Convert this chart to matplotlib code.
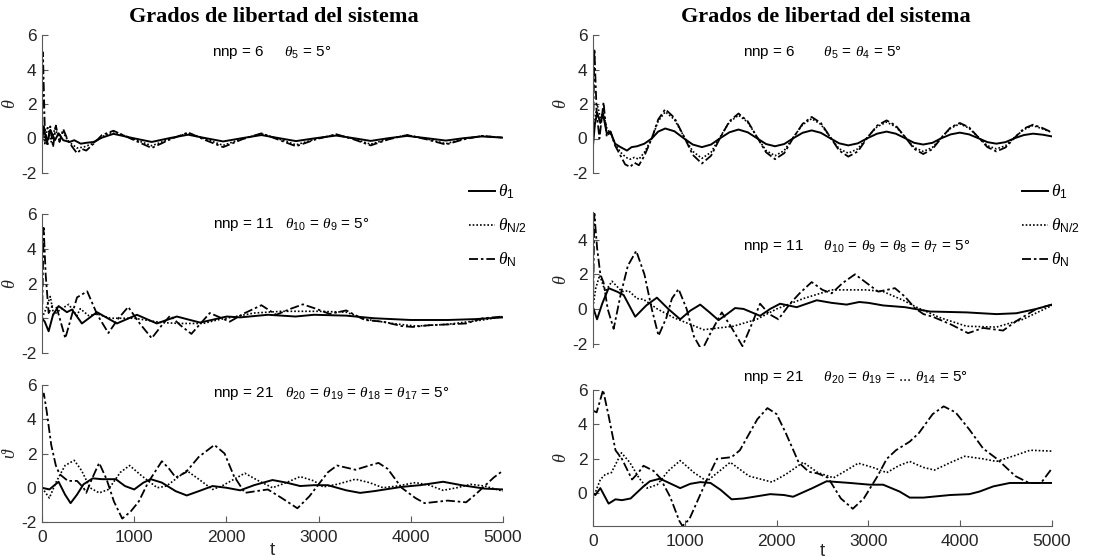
import matplotlib
matplotlib.use('Agg')
import matplotlib.pyplot as plt
from matplotlib.lines import Line2D

plt.rcParams['font.family'] = ['Liberation Sans', 'DejaVu Sans']
plt.rcParams['mathtext.fontset'] = 'custom'
plt.rcParams['mathtext.it'] = 'Liberation Serif:italic'
plt.rcParams['mathtext.rm'] = 'Liberation Sans'
plt.rcParams['mathtext.bf'] = 'Liberation Sans:bold'

# ---------------- data ----------------
title_text = 'Grados de libertad del sistema'
legend_labels = [r'$\theta_{1}$', r'$\theta_{\mathrm{N/2}}$', r'$\theta_{\mathrm{N}}$']
xticks = [0, 1000, 2000, 3000, 4000, 5000]

# Top-left: nnp = 6, theta5 = 5
tl_t1 = [0, 20, 50, 90, 140, 180, 230, 300, 350, 420, 480, 560, 650,
         775, 980, 1190, 1390, 1585, 1775, 1965, 2170, 2380, 2570, 2755, 2970, 3190, 3380, 3565, 3760, 3960, 4170, 4380, 4575, 4770, 5000]
tl_v1 = [-0.2, 0.7, -0.3, 0.5, -0.1, 0.3, -0.1, -0.2, -0.1, -0.3, -0.25, -0.2, 0.05,
         0.27, 0.03, -0.2, 0.03, 0.22, 0.02, -0.17, 0.02, 0.2, 0.02, -0.15, 0.02, 0.17, 0.02, -0.14, 0.02, 0.15, 0.02, -0.12, 0.02, 0.12, 0.05]
tl_t2 = [0, 15, 30, 60, 100, 140, 180, 230, 290, 380, 450, 550, 650,
         775, 980, 1190, 1390, 1585, 1775, 1965, 2170, 2380, 2570, 2755, 2970, 3190, 3380, 3565, 3760, 3960, 4170, 4380, 4575, 4770, 5000]
tl_v2 = [0.0, 0.7, -0.3, 0.7, -0.2, 0.6, 0.1, 0.35, -0.2, -0.55, -0.5, -0.3, 0.1,
         0.4, 0.0, -0.42, -0.02, 0.32, -0.03, -0.4, -0.02, 0.27, -0.03, -0.37, -0.02, 0.22, -0.02, -0.33, -0.02, 0.2, -0.02, -0.3, -0.02, 0.15, 0.05]
tl_t3 = [0, 10, 30, 60, 90, 120, 150, 190, 230, 280, 330, 380, 430, 480, 560, 650,
         775, 980, 1190, 1390, 1585, 1775, 1965, 2170, 2380, 2570, 2755, 2970, 3190, 3380, 3565, 3760, 3960, 4170, 4380, 4575, 4770, 5000]
tl_v3 = [-0.3, 5.0, 0.6, -0.4, 0.7, -0.5, 0.75, -0.2, 0.55, -0.1, -0.5, -0.85, -0.6, -0.7, -0.3, 0.2,
         0.45, -0.05, -0.55, -0.05, 0.35, -0.1, -0.5, -0.05, 0.3, -0.08, -0.45, -0.05, 0.25, -0.05, -0.4, -0.05, 0.2, -0.05, -0.35, -0.05, 0.15, 0.05]

# Top-right: nnp = 6, theta5 = theta4 = 5
tr_t1 = [0, 20, 45, 80, 110, 150, 190, 240, 300, 370, 420, 480, 560, 640, 710,
         787, 887, 987, 1087, 1186, 1286, 1386, 1486, 1585, 1685, 1785, 1885, 1983, 2083, 2183, 2283, 2382, 2482, 2582, 2682, 2781,
         2885, 2990, 3095, 3198, 3298, 3398, 3498, 3597, 3697, 3797, 3897, 3996, 4096, 4196, 4296, 4394, 4494, 4594, 4694, 4793, 4900, 5000]
tr_v1 = [-0.4, 0.8, 1.5, 0.9, 1.4, 0.3, 0.4, -0.3, -0.5, -0.7, -0.5, -0.45, -0.3, 0.0, 0.4,
         0.58, 0.42, 0.02, -0.35, -0.5, -0.35, 0.02, 0.36, 0.52, 0.36, 0.02, -0.32, -0.45, -0.32, 0.02, 0.33, 0.47, 0.33, 0.02, -0.28, -0.4,
         -0.28, 0.02, 0.28, 0.4, 0.28, 0.02, -0.25, -0.35, -0.25, 0.02, 0.24, 0.34, 0.24, 0.02, -0.21, -0.3, -0.21, 0.02, 0.2, 0.28, 0.22, 0.12]
tr_t2 = [0, 20, 45, 80, 110, 150, 190, 240, 300, 360, 405, 450, 500, 560, 640, 710,
         787, 887, 987, 1087, 1186, 1286, 1386, 1486, 1585, 1685, 1785, 1885, 1983, 2083, 2183, 2283, 2382, 2482, 2582, 2682, 2781,
         2885, 2990, 3095, 3198, 3298, 3398, 3498, 3597, 3697, 3797, 3897, 3996, 4096, 4196, 4296, 4394, 4494, 4594, 4694, 4793, 4900, 5000]
tr_v2 = [0.0, 1.0, 2.0, 1.2, 1.5, 0.6, 0.3, -0.3, -0.8, -1.1, -1.2, -1.1, -1.2, -0.8, 0.0, 1.0,
         1.55, 1.1, 0.15, -0.75, -1.15, -0.8, 0.1, 0.95, 1.35, 0.95, 0.1, -0.7, -1.0, -0.7, 0.08, 0.8, 1.15, 0.82, 0.1, -0.6, -0.85,
         -0.6, 0.08, 0.68, 0.95, 0.68, 0.1, -0.52, -0.75, -0.52, 0.08, 0.6, 0.85, 0.6, 0.08, -0.42, -0.6, -0.42, 0.08, 0.52, 0.75, 0.55, 0.35]
tr_t3 = [0, 15, 40, 70, 115, 150, 190, 240, 300, 350, 405, 450, 500, 560, 640, 710,
         787, 887, 987, 1087, 1186, 1286, 1386, 1486, 1585, 1685, 1785, 1885, 1983, 2083, 2183, 2283, 2382, 2482, 2582, 2682, 2781,
         2885, 2990, 3095, 3198, 3298, 3398, 3498, 3597, 3697, 3797, 3897, 3996, 4096, 4196, 4296, 4394, 4494, 4594, 4694, 4793, 4900, 5000]
tr_v3 = [-0.4, 5.2, 1.5, 0.0, 2.1, 0.1, 0.4, -0.4, -1.0, -1.5, -1.65, -1.4, -1.55, -1.0, 0.0, 1.1,
         1.7, 1.2, 0.15, -0.95, -1.45, -1.0, 0.05, 1.0, 1.45, 1.0, 0.1, -0.8, -1.2, -0.85, 0.05, 0.85, 1.25, 0.9, 0.1, -0.7, -1.05,
         -0.75, 0.05, 0.75, 1.05, 0.75, 0.1, -0.6, -0.9, -0.62, 0.05, 0.65, 0.9, 0.65, 0.08, -0.5, -0.75, -0.52, 0.05, 0.58, 0.8, 0.6, 0.35]

# Middle-left: nnp = 11
ml_t1 = [0, 30, 72, 120, 180, 270, 325, 433, 596, 812, 1029, 1245, 1462, 1715, 2003, 2150, 2450, 2750, 2950, 3300, 3600, 4000, 4400, 4700, 5000]
ml_v1 = [0.0, -0.2, -0.75, 0.2, 0.7, 0.35, 0.5, -0.3, 0.35, -0.3, 0.2, -0.3, 0.1, -0.25, 0.1, 0.05, 0.2, 0.1, 0.2, 0.15, 0.0, -0.1, -0.1, -0.05, 0.05]
ml_t2 = [0, 40, 90, 126, 200, 289, 379, 415, 505, 596, 740, 1000, 1300, 1500, 1750, 1900, 2100, 2300, 2600, 3000, 3300, 3500, 3800, 4050, 4400, 4780, 5000]
ml_v2 = [0.0, 0.5, 1.25, 0.2, 0.5, 0.8, 0.15, 0.55, 0.15, 0.25, 0.0, 0.0, -0.25, -0.3, -0.3, -0.1, 0.1, 0.3, 0.4, 0.4, 0.35, -0.05, -0.3, -0.45, -0.35, -0.1, 0.1]
ml_t3 = [0, 18, 40, 72, 110, 160, 253, 330, 380, 490, 600, 720, 830, 935, 1060, 1190, 1300, 1390, 1500, 1620, 1720, 1820, 1930, 2035,
         2200, 2380, 2540, 2700, 2830, 2970, 3120, 3300, 3500, 3700, 3900, 4020, 4200, 4420, 4600, 4780, 5000]
ml_v3 = [-0.2, 5.2, 2.5, 0.3, 0.7, 0.6, -1.15, 0.3, 1.2, 1.55, 0.2, -0.85, 0.0, 0.65, -0.3, -1.15, -0.4, 0.15, -0.4, -0.9, -0.3, 0.3, 0.05, -0.2,
         0.3, 0.75, 0.2, 0.55, 0.8, 0.55, 0.25, 0.45, -0.1, -0.2, -0.45, -0.5, -0.4, -0.35, -0.3, 0.0, 0.1]

# Middle-right: nnp = 11, four angles
mr_t1 = [0, 44, 100, 170, 261, 334, 460, 580, 696, 820, 950, 1060, 1168, 1270, 1367, 1460, 1548, 1640, 1820, 1930, 2038, 2219, 2437, 2600,
         2763, 2900, 3000, 3162, 3400, 3669, 4068, 4395, 4612, 4830, 5000]
mr_v1 = [0.1, -0.6, 0.3, 1.2, 1.0, 0.8, -0.45, 0.2, 0.65, 0.0, -0.6, -0.1, 0.25, -0.2, -0.65, -0.3, 0.05, 0.0, -0.4, 0.0, 0.3, 0.1, 0.5, 0.35,
         0.25, 0.4, 0.35, 0.2, 0.1, -0.15, -0.2, -0.3, -0.25, 0.0, 0.25]
mr_t2 = [0, 30, 73, 134, 207, 315, 388, 479, 551, 700, 877, 1204, 1530, 1784, 2001, 2292, 2600, 2980, 3162, 3379, 3524, 3778, 4068, 4395, 4684, 5000]
mr_v2 = [0.1, 1.2, 1.95, 1.0, 1.6, 1.0, 1.05, 0.6, 0.55, 0.0, -0.5, -1.2, -1.0, -0.6, 0.0, 0.6, 1.1, 1.1, 1.0, 0.5, 0.1, -0.5, -1.0, -1.05, -0.6, 0.2]
mr_t3 = [0, 15, 45, 80, 116, 160, 225, 300, 380, 471, 560, 640, 714, 800, 860, 932, 1020, 1100, 1186, 1280, 1403, 1500, 1628, 1720, 1820, 1920,
         2020, 2146, 2250, 2382, 2500, 2600, 2720, 2854, 2980, 3107, 3200, 3289, 3400, 3506, 3600, 3700, 3900, 4086, 4249, 4467, 4612, 4830, 5000]
mr_v3 = [0.1, 5.5, 3.5, 2.0, 1.5, 0.0, -1.15, 0.8, 2.5, 3.35, 2.0, 0.0, -1.55, -0.5, 0.6, 1.15, 0.0, -1.6, -2.4, -1.4, -0.2, -1.0, -2.15, -1.0, 0.3, -0.3,
         -0.6, 0.3, 0.9, 1.55, 1.1, 0.9, 1.5, 2.0, 1.5, 1.0, 1.1, 1.2, 0.7, 0.05, -0.3, -0.45, -0.9, -1.4, -1.1, -1.25, -0.7, 0.0, 0.25]

# Bottom-left: nnp = 21, four angles
bl_t1 = [0, 80, 180, 250, 310, 380, 450, 550, 650, 800, 900, 1000, 1100, 1180, 1300, 1450, 1570, 1700, 1850, 2000, 2150, 2300, 2500, 2650,
         2800, 2950, 3100, 3300, 3450, 3600, 3900, 4100, 4350, 4550, 4800, 5000]
bl_v1 = [0.0, -0.1, 0.35, -0.4, -0.9, -0.4, 0.2, 0.55, 0.5, 0.5, 0.1, -0.1, 0.3, 0.5, 0.3, -0.2, -0.45, -0.2, 0.1, 0.0, -0.15, 0.15, 0.45, 0.3,
         0.1, 0.15, 0.15, -0.15, -0.3, -0.2, 0.05, 0.15, 0.35, 0.15, -0.05, -0.1]
bl_t2 = [0, 80, 150, 250, 350, 430, 520, 620, 720, 850, 950, 1080, 1250, 1350, 1570, 1700, 1850, 1950, 2200, 2350, 2500, 2650, 2800, 2950,
         3050, 3200, 3400, 3550, 3700, 3850, 4050, 4200, 4350, 4500, 4650, 4800, 5000]
bl_v2 = [0.0, -0.6, 0.3, 1.3, 1.6, 1.0, 0.0, -0.3, -0.1, 0.9, 1.3, 0.7, 0.0, 0.1, 1.0, 0.5, -0.1, 0.1, 0.85, 0.4, 0.0, 0.3, 0.65, 0.4,
         0.05, 0.2, 0.5, 0.3, 0.0, 0.1, 0.3, 0.15, -0.15, 0.0, 0.2, 0.1, -0.2]
bl_t3 = [0, 20, 50, 100, 150, 190, 280, 380, 450, 480, 540, 620, 700, 780, 870, 960, 1050, 1150, 1300, 1380, 1450, 1560, 1700, 1870, 1980,
         2080, 2200, 2320, 2450, 2600, 2770, 2900, 3000, 3100, 3200, 3400, 3550, 3650, 3750, 3900, 4050, 4150, 4400, 4600, 4700, 4800, 4900, 5000]
bl_v3 = [5.3, 5.5, 4.5, 2.5, 1.3, 0.8, 0.4, 0.4, 0.0, -0.3, 0.5, 1.45, 0.5, -0.8, -1.8, -1.4, -0.8, 0.3, 1.55, 1.1, 0.6, 0.9, 1.8, 2.5, 2.0,
         0.7, -0.3, -0.2, -0.1, -0.6, -1.2, -0.5, 0.2, 0.9, 1.3, 1.05, 1.3, 1.45, 1.1, 0.0, -0.6, -0.9, -0.75, -0.85, -0.4, 0.1, 0.6, 1.0]

# Bottom-right: nnp = 21, seven angles
br_t1 = [0, 25, 80, 170, 245, 315, 410, 550, 620, 730, 870, 950, 1060, 1170, 1280, 1390, 1510, 1640, 1930, 2080, 2180, 2390, 2545, 2800,
         3015, 3160, 3340, 3450, 3600, 3890, 4100, 4210, 4360, 4540, 5000]
br_v1 = [0.0, -0.1, 0.3, -0.6, -0.35, -0.4, -0.3, 0.4, 0.7, 0.85, 0.5, 0.3, 0.55, 0.65, 0.6, 0.2, -0.35, -0.3, -0.05, -0.1, -0.2, 0.3, 0.7, 0.6,
         0.5, 0.5, 0.1, -0.25, -0.25, -0.1, -0.05, 0.1, 0.4, 0.6, 0.6]
br_t2 = [0, 80, 135, 200, 310, 400, 500, 590, 700, 820, 950, 1100, 1240, 1380, 1495, 1700, 1950, 2100, 2290, 2450, 2620, 2750, 2890, 3050,
         3200, 3330, 3450, 3600, 3720, 3900, 4050, 4250, 4395, 4600, 4760, 5000]
br_v2 = [-0.3, 0.8, 1.1, 1.2, 2.35, 1.8, 0.9, 0.3, 0.5, 1.3, 1.9, 1.2, 0.7, 1.3, 1.8, 1.0, 0.65, 1.1, 1.8, 1.2, 0.9, 1.3, 1.75, 1.5,
         1.2, 1.6, 1.85, 1.5, 1.35, 1.8, 2.15, 2.0, 1.85, 2.2, 2.5, 2.45]
br_t3 = [0, 40, 110, 170, 245, 315, 370, 425, 495, 550, 660, 730, 840, 940, 975, 1050, 1150, 1250, 1350, 1510, 1600, 1790, 1900, 2000,
         2100, 2240, 2350, 2450, 2560, 2700, 2830, 2950, 3100, 3200, 3300, 3450, 3550, 3700, 3820, 3950, 4100, 4250, 4400, 4600, 4750, 4880, 5000]
br_v3 = [4.8, 4.7, 6.0, 4.5, 2.5, 2.0, 1.4, 0.8, 1.2, 1.6, 1.3, 0.9, -0.2, -1.6, -1.9, -1.5, -0.3, 0.9, 2.0, 2.1, 2.5, 4.3, 4.95, 4.6,
         3.5, 1.8, 1.25, 1.15, 0.9, -0.3, -0.9, -0.3, 1.0, 2.0, 2.5, 3.0, 3.5, 4.6, 5.05, 4.7, 3.7, 2.6, 2.0, 1.0, 0.6, 0.6, 1.45]

# Panel annotations
tl_note = r'nnp = 6     $\theta_{5}$ = 5°'
tr_note = r'nnp = 6       $\theta_{5}$ = $\theta_{4}$ = 5°'
ml_note = r'nnp = 11   $\theta_{10}$ = $\theta_{9}$ = 5°'
mr_note = r'nnp = 11     $\theta_{10}$ = $\theta_{9}$ = $\theta_{8}$ = $\theta_{7}$ = 5°'
bl_note = r'nnp = 21   $\theta_{20}$ = $\theta_{19}$ = $\theta_{18}$ = $\theta_{17}$ = 5°'
br_note = r'nnp = 21     $\theta_{20}$ = $\theta_{19}$ = ... $\theta_{14}$ = 5°'

# ---------------- figure ----------------
W, H = 1103, 558
fig = plt.figure(figsize=(W / 100, H / 100), dpi=100)

def px_rect(x0, x1, ytop, ybot):
    return [x0 / W, 1 - ybot / H, (x1 - x0) / W, (ybot - ytop) / H]

LX = (42, 503)
RX = (593, 1052)
panels = [
    dict(rect=px_rect(*LX, 35, 173), ylim=(-2, 6), yt=[-2, 0, 2, 4, 6],
         data=(tl_t1, tl_v1, tl_t2, tl_v2, tl_t3, tl_v3), note=tl_note, npos=(1840, 5.0), bottom=False, ylab=r'$\theta$'),
    dict(rect=px_rect(*RX, 35, 173), ylim=(-2, 6), yt=[-2, 0, 2, 4, 6],
         data=(tr_t1, tr_v1, tr_t2, tr_v2, tr_t3, tr_v3), note=tr_note, npos=(1630, 5.0), bottom=False, ylab=r'$\theta$'),
    dict(rect=px_rect(*LX, 214, 353), ylim=(-2, 6), yt=[-2, 0, 2, 4, 6],
         data=(ml_t1, ml_v1, ml_t2, ml_v2, ml_t3, ml_v3), note=ml_note, npos=(1850, 5.4), bottom=False, ylab=r'$\theta$'),
    dict(rect=px_rect(*RX, 212, 347), ylim=(-2.2, 5.6), yt=[-2, 0, 2, 4],
         data=(mr_t1, mr_v1, mr_t2, mr_v2, mr_t3, mr_v3), note=mr_note, npos=(1630, 3.6), bottom=False, ylab=r'$\theta$'),
    dict(rect=px_rect(*LX, 385, 522), ylim=(-2, 6), yt=[-2, 0, 2, 4, 6],
         data=(bl_t1, bl_v1, bl_t2, bl_v2, bl_t3, bl_v3), note=bl_note, npos=(1850, 5.5), bottom=True, ylab=r'$\vartheta$',
         tcoord=-0.145),
    dict(rect=px_rect(*RX, 390, 526), ylim=(-1.9, 6), yt=[0, 2, 4, 6],
         data=(br_t1, br_v1, br_t2, br_v2, br_t3, br_v3), note=br_note, npos=(1630, 6.7), bottom=True, ylab=r'$\theta$',
         tcoord=-0.125),
]

gray = '#5a5a5a'
tickcol = '#262626'
ls_solid = '-'
ls_dot = (0, (1.0, 1.2))
ls_dashdot = (0, (5.0, 1.6, 1.4, 1.6))

axes = []
for p in panels:
    ax = fig.add_axes(p['rect'])
    t1, v1, t2, v2, t3, v3 = p['data']
    ax.plot(t1, v1, color='black', lw=1.4, ls=ls_solid)
    ax.plot(t2, v2, color='black', lw=1.2, ls=ls_dot)
    ax.plot(t3, v3, color='black', lw=1.3, ls=ls_dashdot)
    ax.set_xlim(0, 5000)
    ax.set_ylim(*p['ylim'])
    ax.set_yticks(p['yt'])
    ax.set_yticklabels([str(v) for v in p['yt']])
    for s in ['top', 'right']:
        ax.spines[s].set_visible(False)
    ax.spines['left'].set_color(gray)
    ax.spines['left'].set_linewidth(0.8)
    ax.tick_params(axis='y', direction='in', length=4, width=0.8, color=gray,
                   labelsize=12.5, labelcolor=tickcol, pad=4)
    if p['bottom']:
        ax.spines['bottom'].set_color(gray)
        ax.spines['bottom'].set_linewidth(0.8)
        ax.set_xticks(xticks)
        ax.set_xticklabels([str(v) for v in xticks])
        ax.tick_params(axis='x', direction='in', length=4, width=0.8, color=gray,
                       labelsize=12.5, labelcolor=tickcol, pad=6)
        ax.set_xlabel('t', fontsize=13.5, color=tickcol)
        ax.xaxis.set_label_coords(0.5, p['tcoord'])
    else:
        ax.spines['bottom'].set_visible(False)
        ax.set_xticks([])
    ax.set_ylabel(p['ylab'], fontsize=13, color=tickcol)
    ax.yaxis.set_label_coords(-0.05, 0.5)
    ax.patch.set_alpha(0)
    ax.text(p['npos'][0], p['npos'][1], p['note'], fontsize=11, color='black',
            ha='left', va='center', clip_on=False)
    axes.append(ax)

# Titles
fig.text(274 / W, 1 - 17 / H, title_text, fontsize=16, fontweight='bold',
         family='Liberation Serif', ha='center', va='center')
fig.text(826 / W, 1 - 17 / H, title_text, fontsize=16, fontweight='bold',
         family='Liberation Serif', ha='center', va='center')

# Legends (middle panels)
handles = [Line2D([], [], color='black', lw=1.4, ls=ls_solid),
           Line2D([], [], color='black', lw=1.2, ls=ls_dot),
           Line2D([], [], color='black', lw=1.3, ls=ls_dashdot)]
for xpx in (469, 1022):
    fig.legend(handles, legend_labels, loc='upper left',
               bbox_to_anchor=(xpx / W, 1 - 183 / H), bbox_transform=fig.transFigure,
               frameon=False, handlelength=1.5, handletextpad=0.15,
               labelspacing=0.9, fontsize=12.5, borderpad=0, borderaxespad=0)

fig.savefig('out.png', dpi=100)
